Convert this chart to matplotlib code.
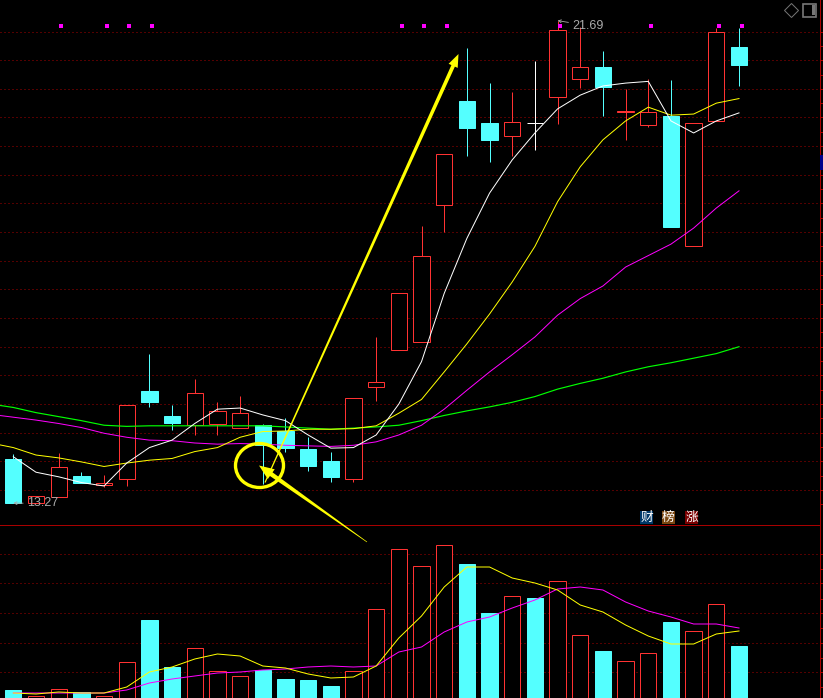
import numpy as np
import matplotlib
matplotlib.use("Agg")
import matplotlib.pyplot as plt
from matplotlib.patches import Ellipse, Polygon, Rectangle
from matplotlib.ticker import FixedLocator, NullFormatter

RED = "#ff3232"
CYAN = "#54ffff"
GRID = "#a80000"
GRAY = "#aaaaaa"
THIN = 0.72

# daily bars (yuan)
opens = [14.04, 13.27, 13.38, 13.74, 13.58, 13.70, 15.23, 14.79, 14.64, 14.66, 14.59,
         14.63, 14.53, 14.21, 14.01, 13.69, 15.30, 15.95, 16.09, 18.48, 20.29, 19.90,
         19.68, 19.90, 20.35, 20.68, 20.88, 20.10, 19.87, 20.03, 17.75, 19.94, 21.23]
closes = [13.27, 13.39, 13.90, 13.63, 13.62, 14.98, 15.04, 14.67, 15.19, 14.87, 14.84,
          14.29, 14.24, 13.92, 13.73, 15.10, 15.38, 16.94, 17.59, 19.36, 19.82, 19.61,
          19.92, 19.90, 21.52, 20.88, 20.53, 20.11, 20.09, 18.09, 19.90, 21.49, 20.92]
highs = [14.13, 13.39, 14.14, 13.81, 13.76, 14.98, 15.87, 14.98, 15.43, 15.04, 15.14,
         14.65, 14.75, 14.43, 14.16, 15.10, 16.17, 16.94, 18.11, 19.36, 21.21, 20.60,
         20.44, 20.99, 21.69, 21.58, 21.16, 20.50, 20.68, 20.65, 19.90, 21.57, 21.56]
lows = [13.27, 13.27, 13.38, 13.62, 13.56, 13.57, 14.95, 14.55, 14.46, 14.46, 14.59,
        13.60, 14.16, 13.83, 13.64, 13.64, 15.05, 15.95, 16.09, 18.01, 19.32, 19.22,
        19.33, 19.43, 19.89, 20.52, 20.03, 19.61, 19.83, 18.09, 17.75, 19.94, 20.55]

ma5 = [14.08, 13.81, 13.73, 13.63, 13.57, 13.97, 14.24, 14.37, 14.66, 14.91, 14.93,
       14.81, 14.71, 14.46, 14.23, 14.24, 14.46, 15.00, 15.74, 16.93, 17.89, 18.68,
       19.26, 19.73, 20.15, 20.39, 20.55, 20.60, 20.63, 19.94, 19.73, 19.94, 20.08]
# the longer averages start one bar before the window
ma10 = [14.32, 14.24, 14.11, 14.06, 13.99, 13.91, 13.97, 14.02, 14.05, 14.17, 14.24, 14.42,
        14.52, 14.53, 14.56, 14.56, 14.57, 14.62, 14.84, 15.08, 15.56, 16.05, 16.57,
        17.13, 17.75, 18.53, 19.14, 19.61, 19.94, 20.18, 20.04, 20.06, 20.25, 20.33]
ma20 = [14.82, 14.77, 14.72, 14.66, 14.59, 14.49, 14.42, 14.37, 14.36, 14.32, 14.30, 14.31,
        14.30, 14.28, 14.27, 14.26, 14.28, 14.34, 14.46, 14.63, 14.91, 15.24, 15.56,
        15.86, 16.17, 16.55, 16.84, 17.06, 17.39, 17.59, 17.79, 18.07, 18.42, 18.72]
ma60 = [15.00, 14.94, 14.85, 14.78, 14.71, 14.63, 14.61, 14.62, 14.62, 14.62, 14.62, 14.62,
        14.62, 14.60, 14.58, 14.56, 14.58, 14.60, 14.63, 14.71, 14.80, 14.88, 14.95,
        15.03, 15.13, 15.26, 15.36, 15.45, 15.56, 15.65, 15.72, 15.80, 15.88, 16.00]

volumes = [8, 2, 9, 6, 2, 36, 78, 31, 50, 27, 22, 28, 19, 18, 12, 27, 89, 149, 132, 153,
           134, 85, 102, 100, 117, 63, 47, 37, 45, 76, 67, 94, 52]
vol_ma5 = [5, 4, 6, 5, 5, 11, 26, 31, 39, 44, 42, 32, 30, 24, 20, 21, 32, 60, 82, 111,
           131, 131, 120, 115, 108, 93, 86, 73, 62, 54, 54, 64, 67]
vol_ma10 = [5, 5, 5, 5, 5, 8, 15, 19, 22, 25, 26, 28, 29, 31, 32, 31, 32, 46, 51, 66,
            76, 81, 90, 98, 109, 111, 108, 96, 87, 81, 74, 74, 70]

signal_bars = [2, 4, 5, 6, 17, 18, 19, 24, 28, 31, 32]
price_grid = [13.5 + 0.5 * k for k in range(17)]
vol_grid = [26, 55, 85, 115, 144]
vol_minor = [11, 40, 70, 99.5, 129]

plt.rcParams["font.family"] = ["Liberation Sans", "DejaVu Sans"]

opens = np.array(opens)
closes = np.array(closes)
highs = np.array(highs)
lows = np.array(lows)
x = np.arange(len(opens))
ma_x = np.arange(-1, len(opens))

up = closes > opens
candle_color = [("white" if o == c else (RED if u else CYAN))
                for o, c, u in zip(opens, closes, up)]
face_color = [(CYAN if not u and o != c else "black") for o, c, u in zip(opens, closes, up)]

W, H = 823, 698
fig = plt.figure(figsize=(W / 100, H / 100), dpi=100, facecolor="black")
axes_w = 819.5 / W
ax = fig.add_axes([0, 173 / H, axes_w, 525 / H], facecolor="black")
ax_vol = fig.add_axes([0, 0, axes_w, 173 / H], facecolor="none")
over = fig.add_axes([0, 0, 1, 1], facecolor="none")
over.set_xlim(0, W)
over.set_ylim(H, 0)
over.axis("off")

x_range = (-0.587, 35.55)
for a in (ax, ax_vol):
    a.set_xlim(*x_range)
    a.set_xticks([])
    a.yaxis.tick_right()
    a.tick_params(axis="y", which="both", direction="out", color=GRID, length=2.4,
                  width=THIN, labelright=False)
    a.yaxis.set_major_formatter(NullFormatter())
    a.yaxis.set_minor_formatter(NullFormatter())
    a.grid(True, axis="y", which="major", color=GRID, linewidth=0.72, linestyle=(0, (1, 3)))
    a.set_axisbelow(True)
    for side in ("left", "top", "bottom"):
        a.spines[side].set_visible(False)
    a.spines["right"].set_color(GRID)
    a.spines["right"].set_linewidth(THIN)

ax.set_ylim(12.889, 22.05)
ax.yaxis.set_major_locator(FixedLocator(price_grid))
ax.yaxis.set_minor_locator(FixedLocator([p - 0.25 for p in price_grid]))

ax_vol.set_ylim(0, 173)
ax_vol.yaxis.set_major_locator(FixedLocator(vol_grid))
ax_vol.yaxis.set_minor_locator(FixedLocator(vol_minor))
# panel divider
ax_vol.spines["top"].set_visible(True)
ax_vol.spines["top"].set_color(GRID)
ax_vol.spines["top"].set_linewidth(THIN)

# candles
ax.vlines(x, lows, highs, colors=candle_color, linewidth=THIN, zorder=2)
ax.bar(x, np.abs(closes - opens), bottom=np.minimum(opens, closes), width=0.72,
       facecolor=face_color, edgecolor=candle_color, linewidth=THIN, zorder=3)
ax.scatter(np.array(signal_bars) + 0.12, [21.60] * len(signal_bars), marker="s", s=6,
           color="#ff00ff", linewidths=0, zorder=4)

ax.plot(ma_x, ma60, color="#00ff00", linewidth=0.85, zorder=5)
ax.plot(ma_x, ma20, color="#ff00ff", linewidth=THIN, zorder=5)
ax.plot(ma_x, ma10, color="#ffff00", linewidth=THIN, zorder=6)
ax.plot(x, ma5, color="white", linewidth=THIN, zorder=6)

# high / low marks
for bar, price, dx, dy in [(24, 21.69, 15, -5), (0, 13.27, 14, 0)]:
    ax.annotate(f"{price:.2f}", xy=(bar, price), xytext=(dx, dy), textcoords="offset pixels",
                color=GRAY, fontsize=9, va="center", ha="left", zorder=7,
                arrowprops=dict(arrowstyle="->", color=GRAY, linewidth=0.6, mutation_scale=5,
                                shrinkA=1, shrinkB=0))

# volume
ax_vol.bar(x, volumes, width=0.72, facecolor=[("black" if u else CYAN) for u in up],
           edgecolor=[(RED if u else CYAN) for u in up], linewidth=THIN, zorder=3)
ax_vol.plot(x, vol_ma10, color="#ff00ff", linewidth=THIN, zorder=5)
ax_vol.plot(x, vol_ma5, color="#ffff00", linewidth=THIN, zorder=6)


def tapered_arrow(tail, tip, tail_w, shaft, head_len, head_w):
    tail = np.array(tail, dtype=float)
    tip = np.array(tip, dtype=float)
    d = (tip - tail) / np.linalg.norm(tip - tail)
    n = np.array([-d[1], d[0]])
    base = tip - d * head_len
    pts = [tail + n * tail_w / 2, base + n * shaft / 2, base + n * head_w / 2, tip,
           base - n * head_w / 2, base - n * shaft / 2, tail - n * tail_w / 2]
    over.add_patch(Polygon(pts, closed=True, facecolor="#ffff00", edgecolor="none", zorder=10))


tapered_arrow((265, 482.5), (458.5, 54), 1.2, 3.8, 13, 10)
tapered_arrow((367, 542), (259, 465.5), 0.6, 4.5, 15, 12)
over.add_patch(Ellipse((259.5, 465.5), 48, 44, facecolor="none", edgecolor="#ffff00",
                       linewidth=2.4, zorder=10))

# badges above the divider
for left, label, bg in [(640, "财", "#003868"), (662, "榜", "#7a4610"), (685, "涨", "#7a0000")]:
    over.add_patch(Rectangle((left, 511), 13, 13, facecolor=bg, edgecolor="none"))
    over.text(left + 6.5, 517.3, label, color="white", fontsize=9.2, ha="center", va="center",
              family=["Noto Sans CJK SC", "DejaVu Sans"])

# window icons and the cut off side tag
over.plot([791.5], [9.5], marker="D", markersize=7.2, markerfacecolor="none",
          markeredgecolor="#777777", markeredgewidth=0.7, linestyle="none")
over.add_patch(Rectangle((803.5, 3.5), 13, 13, facecolor="none", edgecolor="#777777", linewidth=1.2))
over.add_patch(Rectangle((812, 5), 3.2, 10, facecolor="#777777", edgecolor="none"))
over.add_patch(Rectangle((820, 155), 3, 15, facecolor="#00008c", edgecolor="none"))

over.set_xlim(0, W)
over.set_ylim(H, 0)
fig.savefig("out.png", dpi=100, facecolor="black")
